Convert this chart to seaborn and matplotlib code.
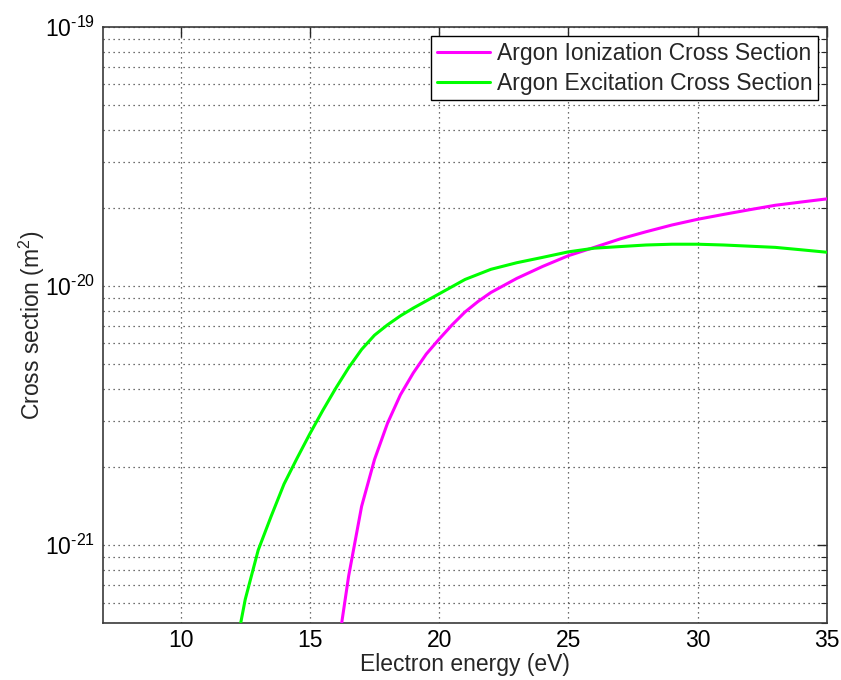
import numpy as np
import pandas as pd
import matplotlib
matplotlib.use("Agg")
import matplotlib.pyplot as plt
import matplotlib.ticker as mticker
import seaborn as sns

# Electron energy grid (eV) and cross sections (m^2)
ion_energy = [16.0, 16.5, 17.0, 17.5, 18.0, 18.5, 19.0, 19.5, 20.0, 20.5, 21.0,
              21.5, 22.0, 23.0, 24.0, 25.0, 26.0, 27.0, 28.0, 29.0, 30.0, 31.0,
              32.0, 33.0, 34.0, 35.0]
ion_sigma = [3.5e-22, 7.6e-22, 1.41e-21, 2.14e-21, 2.95e-21, 3.8e-21, 4.62e-21,
             5.46e-21, 6.24e-21, 7.08e-21, 7.94e-21, 8.71e-21, 9.44e-21,
             1.07e-20, 1.19e-20, 1.31e-20, 1.41e-20, 1.52e-20, 1.62e-20,
             1.72e-20, 1.81e-20, 1.89e-20, 1.97e-20, 2.05e-20, 2.11e-20,
             2.17e-20]

exc_energy = [12.0, 12.5, 13.0, 13.5, 14.0, 14.5, 15.0, 15.5, 16.0, 16.5, 17.0,
              17.5, 18.0, 18.5, 19.0, 20.0, 21.0, 22.0, 23.0, 24.0, 25.0, 26.0,
              27.0, 28.0, 29.0, 30.0, 31.0, 32.0, 33.0, 34.0, 35.0]
exc_sigma = [3.39e-22, 6.17e-22, 9.55e-22, 1.29e-21, 1.72e-21, 2.16e-21,
             2.69e-21, 3.31e-21, 4.03e-21, 4.84e-21, 5.69e-21, 6.46e-21,
             7.08e-21, 7.67e-21, 8.22e-21, 9.33e-21, 1.06e-20, 1.16e-20,
             1.23e-20, 1.29e-20, 1.355e-20, 1.40e-20, 1.42e-20, 1.44e-20,
             1.45e-20, 1.45e-20, 1.44e-20, 1.425e-20, 1.41e-20, 1.38e-20,
             1.35e-20]

series_names = ["Argon Ionization Cross Section", "Argon Excitation Cross Section"]
series_colors = ["#ff00ff", "#00ff00"]

x_ticks = [10, 15, 20, 25, 30, 35]
x_tick_labels = ["10", "15", "20", "25", "30", "35"]
y_ticks = [1e-21, 1e-20, 1e-19]
y_tick_labels = [r"$10^{\text{-21}}$", r"$10^{\text{-20}}$", r"$10^{\text{-19}}$"]

sns.set_style("white")
plt.rcParams["font.family"] = ["Liberation Sans", "DejaVu Sans"]
plt.rcParams["mathtext.fontset"] = "custom"
plt.rcParams["mathtext.rm"] = "Liberation Sans"
plt.rcParams["mathtext.it"] = "Liberation Sans"
plt.rcParams["mathtext.default"] = "regular"
plt.rcParams["axes.unicode_minus"] = False

FS = 16.5

fig = plt.figure(figsize=(8.41, 6.8), dpi=100)
ax = fig.add_axes([0.1225, 0.0838, 0.8609, 0.8765])

ion_df = pd.DataFrame({"energy": ion_energy, "sigma": ion_sigma})
exc_df = pd.DataFrame({"energy": exc_energy, "sigma": exc_sigma})

sns.lineplot(data=ion_df, x="energy", y="sigma", ax=ax, color=series_colors[0],
             linewidth=2.2, label=series_names[0], zorder=3)
sns.lineplot(data=exc_df, x="energy", y="sigma", ax=ax, color=series_colors[1],
             linewidth=2.2, label=series_names[1], zorder=3)

ax.set_yscale("log")
ax.set_xlim(7, 35)
ax.set_ylim(5e-22, 1e-19)

ax.xaxis.set_major_locator(mticker.FixedLocator(x_ticks))
ax.xaxis.set_major_formatter(mticker.FixedFormatter(x_tick_labels))
ax.xaxis.set_minor_locator(mticker.NullLocator())
ax.yaxis.set_major_locator(mticker.FixedLocator(y_ticks))
ax.yaxis.set_major_formatter(mticker.FixedFormatter(y_tick_labels))
ax.yaxis.set_minor_locator(mticker.LogLocator(base=10, subs=np.arange(2, 10)))
ax.yaxis.set_minor_formatter(mticker.NullFormatter())

ax.tick_params(which="both", direction="in", top=True, right=True,
               color="#262626", labelcolor="black")
ax.tick_params(which="major", length=7, width=1, labelsize=FS, pad=6)
ax.tick_params(axis="x", which="major", pad=4)
ax.tick_params(which="minor", length=4, width=0.8)

for s in ax.spines.values():
    s.set_color("#3a3a3a")
    s.set_linewidth(1.2)

ax.grid(True, which="major", axis="both", linestyle=(0, (1, 3)),
        color="#404040", linewidth=0.9, zorder=0)
ax.grid(True, which="minor", axis="y", linestyle=(0, (1, 3)),
        color="#404040", linewidth=0.9, zorder=0)

ax.set_xlabel("Electron energy (eV)", fontsize=FS, labelpad=1)
ax.set_ylabel(r"Cross section (m$^2$)", fontsize=FS, labelpad=-2)

leg = ax.legend(loc="upper right", fontsize=FS, frameon=True, fancybox=False,
                edgecolor="black", framealpha=1, borderpad=0.25,
                handlelength=2.3, handletextpad=0.3, labelspacing=0.3,
                borderaxespad=0.4)
leg.get_frame().set_linewidth(1.0)

fig.savefig("out.png", dpi=100)
